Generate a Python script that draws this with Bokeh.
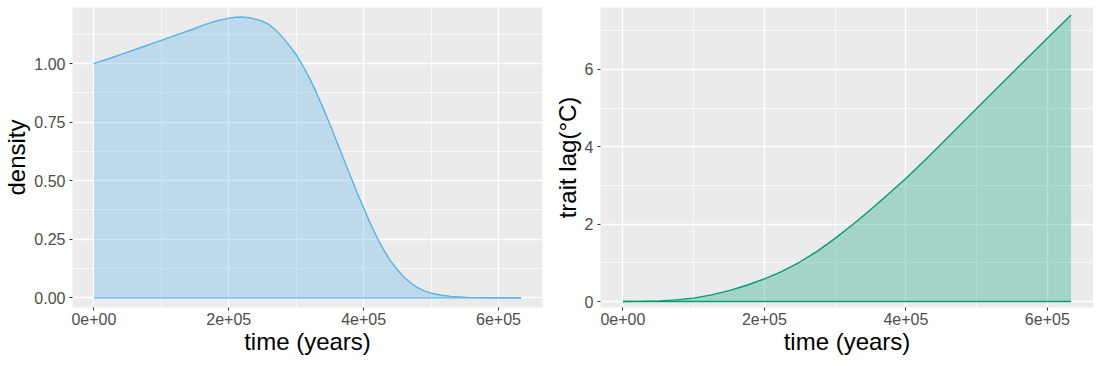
from bokeh.plotting import figure
from bokeh.layouts import row
from bokeh.models import FixedTicker, Range1d
from bokeh.embed import file_html
from bokeh.resources import INLINE

# ---- data ----
time_density = [0, 25000, 50000, 75000, 100000, 125000, 150000, 160000, 170000,
                180000, 190000, 200000, 210000, 220000, 230000, 240000, 250000,
                260000, 270000, 280000, 290000, 300000, 310000, 320000, 330000,
                340000, 350000, 360000, 370000, 380000, 390000, 400000, 410000,
                420000, 430000, 440000, 450000, 460000, 470000, 480000, 490000,
                500000, 515000, 530000, 555000, 600000, 633600]
density = [1.000, 1.024, 1.049, 1.074, 1.099, 1.125, 1.150, 1.162, 1.172,
           1.181, 1.188, 1.194, 1.198, 1.199, 1.196, 1.190, 1.181,
           1.166, 1.143, 1.112, 1.077, 1.038, 0.990, 0.937, 0.876,
           0.810, 0.741, 0.669, 0.596, 0.523, 0.452, 0.384, 0.318,
           0.257, 0.204, 0.158, 0.120, 0.088, 0.063, 0.044, 0.030,
           0.020, 0.011, 0.006, 0.002, 0.000, 0.000]

time_lag = [0, 25000, 53000, 75000, 100000, 125000, 150000, 175000, 200000,
            225000, 250000, 275000, 300000, 325000, 350000, 375000, 400000,
            425000, 450000, 475000, 500000, 550000, 600000, 633600]
trait_lag = [0.0, 0.002, 0.017, 0.043, 0.086, 0.17, 0.28, 0.42, 0.583,
             0.78, 1.02, 1.30, 1.63, 1.99, 2.37, 2.77, 3.18,
             3.62, 4.07, 4.53, 4.99, 5.90, 6.80, 7.40]

x_ticks = [0, 200000, 400000, 600000]
x_minor = [100000, 300000, 500000]
x_labels = ["0e+00", "2e+05", "4e+05", "6e+05"]

dens_ticks = [0, 0.25, 0.5, 0.75, 1.0]
dens_minor = [0.125, 0.375, 0.625, 0.875, 1.125]
dens_labels = ["0.00", "0.25", "0.50", "0.75", "1.00"]

lag_ticks = [0, 2, 4, 6]
lag_minor = [1, 3, 5, 7]
lag_labels = ["0", "2", "4", "6"]

BLUE = "#56B4E9"
GREEN = "#009E73"
FONT = "Liberation Sans"


def style(p, xlab, ylab, yt, ym, ylabels):
    p.background_fill_color = "#EBEBEB"
    p.border_fill_color = "white"
    p.outline_line_color = None
    p.xaxis.ticker = FixedTicker(ticks=x_ticks, minor_ticks=x_minor)
    p.yaxis.ticker = FixedTicker(ticks=yt, minor_ticks=ym)
    p.xaxis.major_label_overrides = {t: l for t, l in zip(x_ticks, x_labels)}
    p.yaxis.major_label_overrides = {t: l for t, l in zip(yt, ylabels)}
    for ax in (p.xaxis, p.yaxis):
        ax.axis_line_color = None
        ax.major_tick_line_color = "#333333"
        ax.major_tick_line_width = 1
        ax.major_tick_out = 3
        ax.major_tick_in = 0
        ax.minor_tick_line_color = None
        ax.major_label_text_font = FONT
        ax.major_label_text_font_size = "16px"
        ax.major_label_text_color = "#4D4D4D"
        ax.axis_label_text_font = FONT
        ax.axis_label_text_font_size = "24px"
        ax.axis_label_text_font_style = "normal"
        ax.axis_label_text_color = "black"
    p.xaxis.axis_label = xlab
    p.yaxis.axis_label = ylab
    p.xaxis.major_label_standoff = 1
    p.xaxis.axis_label_standoff = 0
    p.yaxis.major_label_standoff = 3
    p.yaxis.axis_label_standoff = 1
    for g in (p.xgrid, p.ygrid):
        g.grid_line_color = "white"
        g.grid_line_width = 1.4
        g.minor_grid_line_color = "white"
        g.minor_grid_line_width = 0.7


x_range_l = Range1d(-31680, 665280)
x_range_r = Range1d(-31680, 665280)

p1 = figure(width=549, height=357, output_backend="svg", toolbar_location=None,
            x_range=x_range_l, y_range=Range1d(-0.0413, 1.2396),
            min_border_left=72, min_border_right=7, min_border_top=7,
            min_border_bottom=49)
style(p1, "time (years)", "density", dens_ticks, dens_minor, dens_labels)
p1.varea(x=time_density, y1=[0.0 for _ in time_density], y2=density,
         fill_color=BLUE, fill_alpha=0.3)
p1.line(time_density, density, line_color=BLUE, line_width=1.4)
p1.line(time_density, [0.0 for _ in time_density], line_color=BLUE, line_width=1.4)

p2 = figure(width=544, height=357, output_backend="svg", toolbar_location=None,
            x_range=x_range_r, y_range=Range1d(-0.155, 7.597),
            min_border_left=51, min_border_right=0, min_border_top=7,
            min_border_bottom=49)
style(p2, "time (years)", "trait lag(°C)", lag_ticks, lag_minor, lag_labels)
p2.varea(x=time_lag, y1=[0.0 for _ in time_lag], y2=trait_lag,
         fill_color=GREEN, fill_alpha=0.3)
p2.line(time_lag, trait_lag, line_color=GREEN, line_width=1.4)
p2.line(time_lag, [0.0 for _ in time_lag], line_color=GREEN, line_width=1.4)

layout = row(p1, p2)
open("out.html", "w").write(file_html(layout, INLINE))
